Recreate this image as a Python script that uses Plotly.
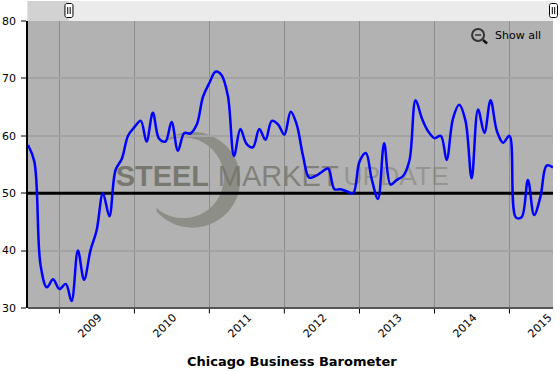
import math
import plotly.graph_objects as go
import pandas as pd

W, H = 560, 371
L, R, T, B = 27.5, 553.0, 21.0, 308.5

start_month = "2008-08-01"
values = [58.4, 55.5, 37.5, 33.6, 35.0, 33.3, 34.2, 31.2, 40.0, 34.9, 40.0, 43.5,
          50.0, 46.0, 54.0, 56.0, 60.0, 61.5, 62.6, 59.0, 64.0, 59.5, 59.0, 62.4,
          57.4, 60.5, 60.4, 62.0, 66.8, 69.2, 71.2, 70.6, 67.0, 56.5, 61.2, 58.6,
          58.0, 61.2, 59.3, 62.6, 62.0, 60.2, 64.2, 62.0, 56.5, 52.7, 53.0, 53.7,
          54.3, 50.7, 50.7, 50.3, 50.0, 55.5, 57.0, 52.5, 49.0, 58.7, 51.5, 52.3,
          53.0, 55.7, 66.2, 63.0, 60.8, 59.6, 60.0, 55.8, 63.0, 65.4, 62.6, 52.6,
          64.6, 60.5, 66.2, 60.8, 58.8, 60.0, 45.8, 45.8, 52.3, 46.2, 49.4, 54.8, 54.5]
dates = pd.date_range(start_month, periods=len(values), freq="MS").strftime("%Y-%m-%d").tolist()

year_ticks = ["2009-01-01", "2010-01-01", "2011-01-01", "2012-01-01", "2013-01-01", "2014-01-01", "2015-01-01"]
label_years = ["2009", "2010", "2011", "2012", "2013", "2014", "2015"]
label_positions = ["2009-07-10", "2010-07-10", "2011-07-10", "2012-07-10", "2013-07-10", "2014-07-10", "2015-07-10"]
y_ticks = [30, 40, 50, 60, 70, 80]
reference_level = [50, 50]
title_text = "Chicago Business Barometer"
wm_words = ["STEEL", "MARKET", "UPDATE"]

x0 = pd.Timestamp(dates[0]).value / 1e6
x1 = pd.Timestamp(dates[-1]).value / 1e6


def px(x):
    return (x - L) / (R - L)


def py(y):
    return (B - y) / (B - T)


def xdata(x):
    return x0 + px(x) * (x1 - x0)


def ydata(y):
    return 30 + py(y) * 50


def rect(x_a, y_a, x_b, y_b, fill, line=None, width=0, layer="above"):
    return dict(type="rect", xref="paper", yref="paper", x0=px(x_a), x1=px(x_b), y0=py(y_b), y1=py(y_a),
                fillcolor=fill, line=dict(color=line or fill, width=width), layer=layer)


def handle(cx):
    xa, xb, ya, yb, r = cx - 4, cx + 4, 3.5, 17.5, 2
    pts = []
    for (ccx, ccy, a0) in [(xb - r, ya + r, -90), (xb - r, yb - r, 0), (xa + r, yb - r, 90), (xa + r, ya + r, 180)]:
        for k in range(7):
            a = math.radians(a0 + k * 15)
            pts.append((ccx + r * math.cos(a), ccy + r * math.sin(a)))
    path = "M" + " L".join(f"{px(a):.5f},{py(b):.5f}" for a, b in pts) + " Z"
    return [dict(type="path", xref="paper", yref="paper", path=path, fillcolor="#ffffff",
                 line=dict(color="#000000", width=1), layer="above"),
            dict(type="line", xref="paper", yref="paper", x0=px(cx - 1.2), x1=px(cx - 1.2), y0=py(7), y1=py(14),
                 line=dict(color="#000000", width=1), layer="above"),
            dict(type="line", xref="paper", yref="paper", x0=px(cx + 1.2), x1=px(cx + 1.2), y0=py(7), y1=py(14),
                 line=dict(color="#000000", width=1), layer="above")]


def crescent():
    ocx, ocy, orad = 192, 180, 48
    icx, icy, irad = 183, 178, 40.5
    pts = []
    for k in range(0, 41):
        a = math.radians(-138 + k * (276 / 40))
        pts.append((ocx + orad * math.cos(a), ocy + orad * math.sin(a)))
    for k in range(0, 41):
        a = math.radians(132 - k * (264 / 40))
        pts.append((icx + irad * math.cos(a), icy + irad * math.sin(a)))
    return "M" + " L".join(f"{px(a):.5f},{py(b):.5f}" for a, b in pts) + " Z"


year_tick_shapes = [
    dict(type="line", xref="x", yref="paper", x0=d, x1=d, y0=py(309), y1=py(314),
         line=dict(color="#000000", width=1), layer="above")
    for d in year_ticks
]

shapes = [
    dict(type="path", xref="paper", yref="paper", path=crescent(), fillcolor="rgba(120,120,110,0.62)",
         line=dict(width=0), layer="below"),
    rect(27, 1, 553, 21, "#ebebeb"),
    rect(27, 1, 68, 21, "#d2d2d2"),
    *handle(68.5),
    *handle(553.5),
    *year_tick_shapes,
    # bottom axis line
    dict(type="line", xref="paper", yref="paper", x0=0, x1=1, y0=0, y1=0,
         line=dict(color="#555555", width=2), layer="above"),
    # magnifier icon
    dict(type="circle", xref="paper", yref="paper", x0=px(472), x1=px(484), y0=py(41), y1=py(29),
         fillcolor="rgba(0,0,0,0)", line=dict(color="#333333", width=2), layer="above"),
    dict(type="line", xref="paper", yref="paper", x0=px(483), x1=px(487), y0=py(40), y1=py(43.5),
         line=dict(color="#111111", width=2.5), layer="above"),
    dict(type="line", xref="paper", yref="paper", x0=px(475), x1=px(481), y0=py(35), y1=py(35),
         line=dict(color="#333333", width=1.5), layer="above"),
]

fig = go.Figure()
wm_font = "Liberation Sans"
fig.add_trace(go.Scatter(x=[xdata(162)], y=[ydata(179)], mode="text", text=[f"<b>{wm_words[0]}</b>"],
                         textfont=dict(family=wm_font, size=29, color="rgba(110,110,100,0.85)"),
                         textposition="middle center", hoverinfo="skip", showlegend=False))
fig.add_trace(go.Scatter(x=[xdata(278)], y=[ydata(179)], mode="text", text=[wm_words[1]],
                         textfont=dict(family=wm_font, size=29, color="rgba(110,110,100,0.72)"),
                         textposition="middle center", hoverinfo="skip", showlegend=False))
fig.add_trace(go.Scatter(x=[xdata(396)], y=[ydata(179)], mode="text", text=[wm_words[2]],
                         textfont=dict(family=wm_font, size=26.5, color="rgba(120,120,110,0.5)"),
                         textposition="middle center", hoverinfo="skip", showlegend=False))
fig.add_trace(go.Scatter(x=[dates[0], dates[-1]], y=reference_level, mode="lines", showlegend=False,
                         hoverinfo="skip", line=dict(color="#000000", width=3)))
fig.add_trace(go.Scatter(x=dates, y=values, mode="lines", showlegend=False, hoverinfo="skip",
                         line=dict(color="#0000ff", width=2.5, shape="spline", smoothing=1.0)))

fig.update_layout(
    width=W, height=H, autosize=False,
    margin=dict(l=L, r=W - R, t=T, b=H - B, pad=0, autoexpand=False),
    paper_bgcolor="#ffffff", plot_bgcolor="#b2b2b2",
    showlegend=False,
    shapes=shapes,
    font=dict(family="DejaVu Sans", size=11, color="#000000"),
    xaxis=dict(type="date", range=[dates[0], dates[-1]], tickmode="array", tickvals=label_positions,
               ticktext=label_years, tickangle=-45, ticks="", showgrid=False,
               zeroline=False, automargin=False,
               showline=False, ticklabelstandoff=0,
               tickfont=dict(size=11),
               minor=dict(tickmode="array", tickvals=year_ticks, ticks="", showgrid=True,
                          gridcolor="#8c8c8c", gridwidth=1)),
    yaxis=dict(range=[30, 80], tickmode="array", tickvals=y_ticks, ticks="outside", ticklen=5, tickwidth=2,
               tickcolor="#808080", gridcolor="#a3a3a3", gridwidth=2, zeroline=False, automargin=False,
               showline=True, linecolor="#000000", linewidth=1.5, ticklabelstandoff=3,
               tickfont=dict(size=11)),
    annotations=[
        dict(text="Show all", xref="paper", yref="paper", x=px(493), y=py(35.5), xanchor="left", yanchor="middle",
             showarrow=False, font=dict(size=11, color="#000000")),
        dict(text=f"<b>{title_text}</b>", xref="paper", yref="paper", x=px(292), y=py(362.5), xanchor="center",
             yanchor="middle", showarrow=False, font=dict(size=13, color="#000000")),
    ],
)
fig.write_html("out.html", config={"displayModeBar": False},
               post_script="document.body.style.margin='0';document.body.style.overflow='hidden';")
